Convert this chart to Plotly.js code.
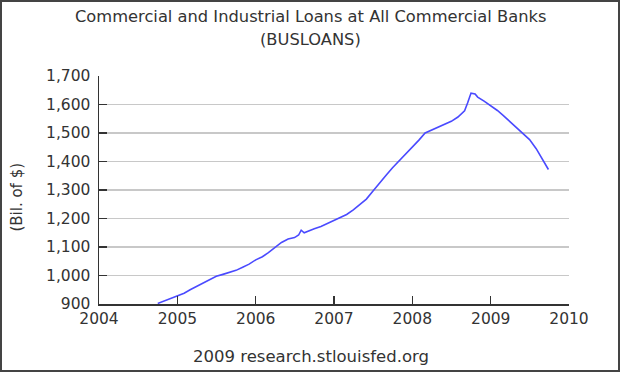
<!DOCTYPE html>
<html>
<head>
<meta charset="utf-8">
<script src="https://cdn.plot.ly/plotly-3.0.1.min.js"></script>
<style>
  html, body { margin: 0; padding: 0; background: #fff; }
  #wrap { position: relative; width: 620px; height: 372px; }
  #chart { width: 620px; height: 372px; }
  #frame { position: absolute; left: 0; top: 0; width: 620px; height: 372px; box-sizing: border-box; border: 2px solid #444; pointer-events: none; }
</style>
</head>
<body>
<div id="wrap"><div id="chart"></div><div id="frame"></div></div>
<script>
const dates = [
  "2004-10-01","2004-11-01","2004-12-01",
  "2005-01-01","2005-02-01","2005-03-01","2005-04-01","2005-05-01","2005-06-01",
  "2005-07-01","2005-08-01","2005-09-01","2005-10-01","2005-11-01","2005-12-01",
  "2006-01-01","2006-02-01","2006-03-01","2006-04-01","2006-05-01","2006-06-01",
  "2006-07-01","2006-07-20","2006-08-01","2006-08-15","2006-09-01","2006-10-01","2006-11-01","2006-12-01",
  "2007-01-01","2007-02-01","2007-03-01","2007-04-01","2007-05-01","2007-06-01",
  "2007-07-01","2007-08-01","2007-09-01","2007-10-01","2007-11-01","2007-12-01",
  "2008-01-01","2008-02-01","2008-03-01","2008-04-01","2008-05-01","2008-06-01",
  "2008-07-01","2008-08-01","2008-08-20","2008-09-01","2008-09-15","2008-10-01","2008-10-20","2008-11-01","2008-12-01",
  "2009-01-01","2009-02-01","2009-03-01","2009-04-01","2009-05-01","2009-06-01",
  "2009-07-01","2009-08-01","2009-09-01","2009-09-27"
];
const loans = [
  902, 911, 919,
  927, 938, 950, 962, 975, 988,
  997, 1004, 1010, 1018, 1029, 1040,
  1055, 1066, 1080, 1098, 1116, 1128,
  1133, 1142, 1159, 1150, 1156, 1164, 1172, 1182,
  1192, 1204, 1214, 1230, 1248, 1268,
  1296, 1326, 1352, 1378, 1402, 1424,
  1450, 1475, 1500, 1510, 1519, 1530,
  1541, 1556, 1568, 1578, 1605, 1640, 1637, 1626, 1612,
  1596, 1579, 1561, 1540, 1520, 1497,
  1477, 1445, 1405, 1372
];
const yTicks = [900, 1000, 1100, 1200, 1300, 1400, 1500, 1600, 1700];
const yTickText = ["900", "1,000", "1,100", "1,200", "1,300", "1,400", "1,500", "1,600", "1,700"];
const xTicks = ["2004-01-01","2005-01-01","2006-01-01","2007-01-01","2008-01-01","2009-01-01","2010-01-01"];
const xTickText = ["2004","2005","2006","2007","2008","2009","2010"];
const titleLines = ["Commercial and Industrial Loans at All Commercial Banks", "(BUSLOANS)"];
const yTitle = "(Bil. of $)";
const sourceText = "2009 research.stlouisfed.org";

const FONT = "DejaVu Sans, Verdana, sans-serif";
const C = "#333";
const trace = {
  x: dates, y: loans, type: "scatter", mode: "lines",
  line: { color: "#4a4aff", width: 1.6 },
  hoverinfo: "skip"
};
const layout = {
  width: 620, height: 372,
  margin: { l: 99, r: 51, t: 76, b: 68, pad: 0 },
  paper_bgcolor: "#fff", plot_bgcolor: "#fff",
  showlegend: false,
  font: { family: FONT, size: 15, color: C },
  xaxis: {
    type: "date", range: ["2004-01-01", "2010-01-01"],
    tickmode: "array", tickvals: xTicks, ticktext: xTickText,
    ticks: "inside", ticklen: 8, tickwidth: 1.5, tickcolor: C,
    showline: true, linecolor: C, linewidth: 1.5,
    showgrid: false, zeroline: false,
    tickfont: { family: FONT, size: 15.5, color: C }
  },
  yaxis: {
    range: [900, 1700],
    tickmode: "array", tickvals: yTicks, ticktext: yTickText,
    ticks: "inside", ticklen: 8, tickwidth: 1.5, tickcolor: C,
    showline: true, linecolor: C, linewidth: 1.5,
    showgrid: true, gridcolor: "#c8c8c8", gridwidth: 1.6,
    zeroline: false, ticklabelstandoff: 4,
    tickfont: { family: FONT, size: 15.5, color: C }
  },
  annotations: [
    { text: titleLines[0], xref: "paper", yref: "paper", x: 0.449, y: 1.259,
      xanchor: "center", yanchor: "middle", showarrow: false,
      font: { family: FONT, size: 16.3, color: C } },
    { text: titleLines[1], xref: "paper", yref: "paper", x: 0.449, y: 1.158,
      xanchor: "center", yanchor: "middle", showarrow: false,
      font: { family: FONT, size: 16.3, color: C } },
    { text: yTitle, xref: "paper", yref: "paper", x: -0.175, y: 0.47,
      xanchor: "center", yanchor: "middle", showarrow: false, textangle: -90,
      font: { family: FONT, size: 15, color: C } },
    { text: sourceText, xref: "paper", yref: "paper", x: 0.45, y: -0.23,
      xanchor: "center", yanchor: "middle", showarrow: false,
      font: { family: FONT, size: 16.5, color: C } }
  ]
};
Plotly.newPlot("chart", [trace], layout, { staticPlot: true, displayModeBar: false });
</script>
</body>
</html>
